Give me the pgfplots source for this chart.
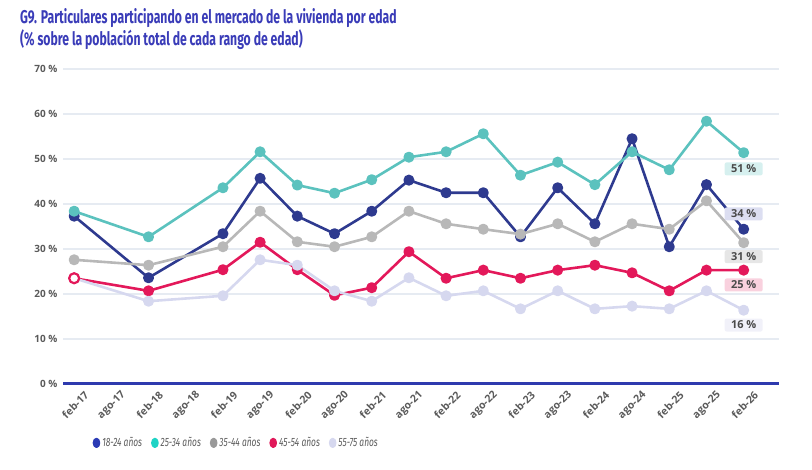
\documentclass[border=0pt]{standalone}
\usepackage{fontspec}
\setmainfont{Open Sans}
\newfontfamily\titlefont{Fira Sans}[FakeStretch=0.66]
\newfontfamily\legendfont{Fira Sans}[FakeStretch=0.7]
\usepackage{pgfplots}
\usepackage{pgfplotstable}
\pgfplotsset{compat=1.18}

\definecolor{c1824}{HTML}{2E3A8F}
\definecolor{c2534}{HTML}{5BC2BE}
\definecolor{c3544}{HTML}{B8B8B8}
\definecolor{c4554}{HTML}{E3185A}
\definecolor{c5575}{HTML}{D6D8EF}
\definecolor{l1824}{HTML}{2B3BB5}
\definecolor{l2534}{HTML}{1ED3C5}
\definecolor{l3544}{HTML}{999999}
\definecolor{l4554}{HTML}{E0195A}
\definecolor{l5575}{HTML}{D6D8EF}
\definecolor{titleblue}{HTML}{3A3CB8}
\definecolor{zeroline}{HTML}{2E3AAE}
\definecolor{gridc}{HTML}{E6EBF2}
\definecolor{ticktext}{HTML}{5A5A5A}
\definecolor{valtext}{HTML}{4A4A4A}

% Share of each age band taking part in the housing market (%)
% x: half-year index, 0 = feb-17 ... 18 = feb-26
\pgfplotstableread{
x   ya    yb    yc    yd    ye
0   37.3  38.4  27.6  23.5  23.5
2   23.6  32.7  26.4  20.7  18.4
4   33.4  43.6  30.5  25.4  19.6
5   45.7  51.6  38.4  31.5  27.6
6   37.3  44.2  31.6  25.4  26.4
7   33.4  42.4  30.5  19.7  20.7
8   38.4  45.4  32.7  21.4  18.4
9   45.3  50.4  38.4  29.4  23.6
10  42.5  51.6  35.6  23.5  19.6
11  42.5  55.6  34.4  25.3  20.7
12  32.7  46.4  33.3  23.5  16.7
13  43.6  49.3  35.6  25.3  20.7
14  35.6  44.3  31.6  26.4  16.7
15  54.5  51.6  35.6  24.7  17.3
16  30.5  47.6  34.4  20.7  16.7
17  44.3  58.4  40.7  25.3  20.7
18  34.4  51.4  31.4  25.3  16.4
}\edaddata

\begin{document}
\begin{tikzpicture}
\path[use as bounding box] (0pt,0pt) rectangle (812pt,470pt);

\node[anchor=base west, inner sep=0pt, text=titleblue,
      font=\titlefont\bfseries\fontsize{18.5}{20}\selectfont] at (20pt,446pt)
  {G9. Particulares participando en el mercado de la vivienda por edad};
\node[anchor=base west, inner sep=0pt, text=titleblue,
      font=\titlefont\bfseries\fontsize{18.5}{20}\selectfont] at (20pt,424pt)
  {(\% sobre la población total de cada rango de edad)};

\begin{axis}[
  at={(63pt,86pt)}, anchor=south west,
  scale only axis, width=716pt, height=315pt,
  xmin=-0.3, xmax=18.95, ymin=0, ymax=70,
  axis x line*=bottom, axis y line*=left,
  axis line style={-},
  x axis line style={draw=zeroline, line width=3pt},
  y axis line style={draw=none},
  major tick length=0pt,
  ytick={0,10,...,70},
  yticklabels={0 \%,10 \%,20 \%,30 \%,40 \%,50 \%,60 \%,70 \%},
  xtick={0,...,18},
  xticklabels={feb-17,ago-17,feb-18,ago-18,feb-19,ago-19,feb-20,ago-20,feb-21,ago-21,feb-22,ago-22,feb-23,ago-23,feb-24,ago-24,feb-25,ago-25,feb-26},
  yticklabel style={font=\bfseries\fontsize{10}{12}\selectfont, text=ticktext, xshift=-2pt},
  xticklabel style={font=\bfseries\fontsize{10.5}{12}\selectfont, text=ticktext,
                    xshift=15pt, yshift=-7pt, rotate=45, anchor=east},
  ymajorgrids, major grid style={draw=gridc, line width=1.4pt},
  every axis plot/.append style={line width=2.6pt, line join=round, mark=*,
                                 mark size=4.2pt, mark options={draw=none}},
  legend image code/.code={\fill[#1] (0pt,0pt) ellipse (2.5pt and 3.8pt);},
  legend style={at={(0.242,-0.187)}, anchor=center, draw=none, fill=none,
                legend columns=5, text=ticktext,
                font=\legendfont\itshape\fontsize{12}{13}\selectfont,
                /tikz/every even column/.append style={column sep=7pt}},
  clip=false,
]
\addplot[color=c1824, forget plot] table[x=x, y=ya] {\edaddata};
\addplot[color=c2534, forget plot] table[x=x, y=yb] {\edaddata};
\addplot[color=c3544, forget plot] table[x=x, y=yc] {\edaddata};
\addplot[color=c4554, forget plot] table[x=x, y=yd] {\edaddata};
\addplot[color=c5575, forget plot] table[x=x, y=ye] {\edaddata};
% highlighted first point of the 45-54 series
\addplot[color=c4554, only marks, mark=*, mark size=5pt,
         mark options={fill=white, draw=c4554, line width=2.2pt}, forget plot]
  coordinates {(0,23.5)};

\addlegendimage{color=l1824}
\addlegendimage{color=l2534}
\addlegendimage{color=l3544}
\addlegendimage{color=l4554}
\addlegendimage{color=l5575}
\legend{18-24 años, 25-34 años, 35-44 años, 45-54 años, 55-75 años}

\tikzset{vlab/.style={rounded corners=2pt, inner sep=0pt, minimum width=38pt,
         minimum height=13pt, text=valtext,
         font=\bfseries\fontsize{11}{12}\selectfont}}
\node[vlab, fill=c2534!25] at (axis cs:18,47.8) {51 \%};
\node[vlab, fill=c5575!85] at (axis cs:18,37.8) {34 \%};
\node[vlab, fill=c3544!35] at (axis cs:18,28.3) {31 \%};
\node[vlab, fill=c4554!20] at (axis cs:18,22.0) {25 \%};
\node[vlab, fill=c5575!35] at (axis cs:18,13.1) {16 \%};
\end{axis}
\end{tikzpicture}
\end{document}
